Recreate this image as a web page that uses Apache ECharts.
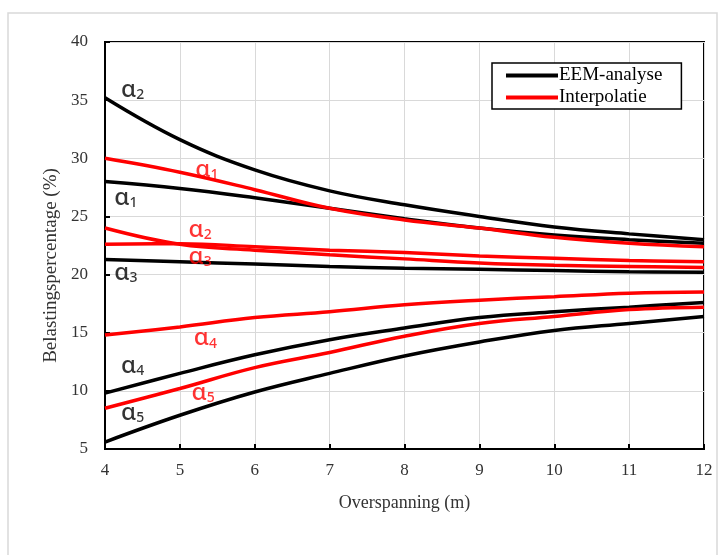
<!DOCTYPE html>
<html><head><meta charset="utf-8">
<script src="https://cdn.jsdelivr.net/npm/echarts@6/dist/echarts.min.js"></script>
<style>html,body{margin:0;padding:0;background:#fff}#c{width:720px;height:555px}</style>
</head><body><div id="c"></div>
<script>
const spans = [4, 5, 6, 7, 8, 9, 10, 11, 12];
// EEM-analyse (black)
const eemA1 = [28.0, 27.4, 26.6, 25.7, 24.8, 24.0, 23.4, 23.0, 22.7];
const eemA2 = [35.2, 31.6, 29.0, 27.2, 26.0, 25.0, 24.1, 23.5, 23.0];
const eemA3 = [21.3, 21.1, 20.9, 20.7, 20.55, 20.45, 20.35, 20.25, 20.2];
const eemA4 = [9.8, 11.5, 13.1, 14.4, 15.4, 16.3, 16.8, 17.2, 17.6];
const eemA5 = [5.6, 7.9, 9.9, 11.5, 13.0, 14.2, 15.2, 15.8, 16.4];
// Interpolatie (red)
const intA1 = [30.0, 28.8, 27.3, 25.7, 24.7, 24.0, 23.2, 22.7, 22.4];
const intA2 = [24.0, 22.6, 22.1, 21.7, 21.35, 21.0, 20.8, 20.7, 20.6];
const intA3 = [22.6, 22.65, 22.4, 22.1, 21.9, 21.6, 21.4, 21.2, 21.1];
const intA4 = [14.8, 15.5, 16.3, 16.8, 17.4, 17.8, 18.1, 18.4, 18.5];
const intA5 = [8.5, 10.2, 12.0, 13.3, 14.7, 15.8, 16.4, 17.0, 17.2];
const yTicks = [5, 10, 15, 20, 25, 30, 35, 40];
const xTicks = [4, 5, 6, 7, 8, 9, 10, 11, 12];
// curve labels: [x, y, subscript]
const eemLabels = [[4.37, 35.9, '2'], [4.28, 26.6, '1'], [4.28, 20.1, '3'], [4.37, 12.1, '4'], [4.37, 8.1, '5']];
const intLabels = [[5.36, 29.0, '1'], [5.27, 23.8, '2'], [5.27, 21.5, '3'], [5.34, 14.5, '4'], [5.31, 9.8, '5']];

const chart = echarts.init(document.getElementById('c'));
function line(name, color, vals) {
  return {
    name: name, type: 'line', smooth: 0.4, symbol: 'none',
    data: spans.map((x, i) => [x, vals[i]]),
    lineStyle: { color: color, width: 3.5 }, itemStyle: { color: color },
    z: name === 'EEM-analyse' ? 3 : 4
  };
}
function labels(color, arr) {
  return {
    type: 'scatter', symbolSize: 0, silent: true, z: 6,
    data: arr.map(d => ({ value: [d[0], d[1]], sub: d[2] })),
    label: {
      show: true, position: 'inside', color: color,
      formatter: p => 'α{s|' + p.data.sub + '}',
      fontFamily: 'Noto Sans', fontSize: 24, fontWeight: 500,
      rich: { s: { fontFamily: 'Noto Sans', fontSize: 14, fontWeight: 500, color: color, verticalAlign: 'bottom', padding: [9, 0, 0, 0] } }
    }
  };
}
const serif = '"Liberation Serif", "Times New Roman", serif';
chart.setOption({
  animation: false,
  backgroundColor: '#fff',
  graphic: [{ type: 'rect', shape: { x: 8, y: 13, width: 709, height: 560 }, style: { fill: 'none', stroke: '#d9d9d9', lineWidth: 1.5 }, z: -10 }],
  grid: { left: 105, right: 16, top: 42, bottom: 106, show: true, borderColor: '#000', borderWidth: 2 },
  legend: {
    data: ['EEM-analyse', 'Interpolatie'], orient: 'vertical', left: 492, top: 63,
    icon: 'rect', itemWidth: 52, itemHeight: 4, itemGap: 3, padding: [3, 19, 2, 14],
    borderColor: '#000', borderWidth: 1.5, backgroundColor: '#fff',
    textStyle: { fontFamily: serif, fontSize: 19, color: '#000', padding: [0, 0, 0, -4] }
  },
  xAxis: {
    type: 'value', min: 4, max: 12, interval: 1,
    name: 'Overspanning (m)', nameLocation: 'middle', nameGap: 45,
    nameTextStyle: { fontFamily: serif, fontSize: 18, color: '#333' },
    axisLine: { lineStyle: { color: '#000', width: 2 } },
    axisTick: { inside: true, length: 5, lineStyle: { color: '#000', width: 2 } },
    axisLabel: { fontFamily: serif, fontSize: 17, color: '#333', margin: 13, formatter: v => xTicks.includes(v) ? String(v) : '' },
    splitLine: { show: true, lineStyle: { color: '#d9d9d9', width: 1 } }
  },
  yAxis: {
    type: 'value', min: 5, max: 40, interval: 5,
    name: 'Belastingspercentage (%)', nameLocation: 'middle', nameGap: 39,
    nameTextStyle: { fontFamily: serif, fontSize: 19, color: '#333', padding: [0, 40, 0, 0] },
    axisLine: { show: true, lineStyle: { color: '#000', width: 2 } },
    axisTick: { show: true, inside: true, length: 5, lineStyle: { color: '#000', width: 2 } },
    axisLabel: { fontFamily: serif, fontSize: 17, color: '#333', margin: 17, formatter: v => yTicks.includes(v) ? String(v) : '' },
    splitLine: { show: true, lineStyle: { color: '#d9d9d9', width: 1 } }
  },
  series: [
    line('EEM-analyse', '#000', eemA1), line('EEM-analyse', '#000', eemA2), line('EEM-analyse', '#000', eemA3),
    line('EEM-analyse', '#000', eemA4), line('EEM-analyse', '#000', eemA5),
    line('Interpolatie', '#ff0000', intA1), line('Interpolatie', '#ff0000', intA2), line('Interpolatie', '#ff0000', intA3),
    line('Interpolatie', '#ff0000', intA4), line('Interpolatie', '#ff0000', intA5),
    labels('#000', eemLabels), labels('#ff0000', intLabels)
  ]
});
</script></body></html>
